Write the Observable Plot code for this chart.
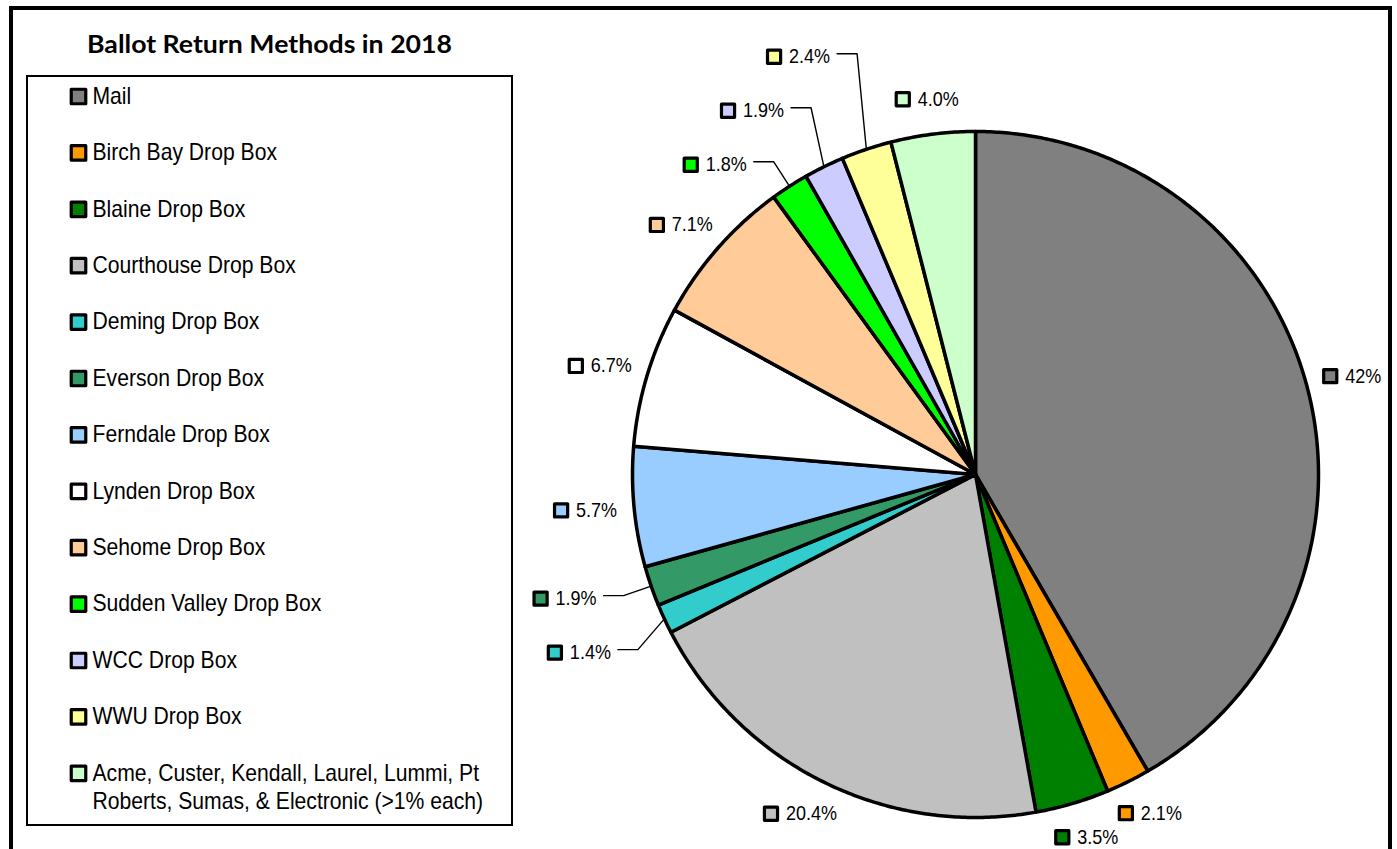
<!DOCTYPE html>
<html>
<head>
<meta charset="utf-8">
<script src="https://cdn.jsdelivr.net/npm/d3@7"></script>
<script src="https://cdn.jsdelivr.net/npm/@observablehq/plot@0.6"></script>
<style>
  body { margin: 0; background: #fff; }
  #wrap { position: relative; width: 1397px; height: 849px; overflow: hidden; background: #fff; }
  #wrap > * { position: absolute; }
  #frame { left: 9px; top: 6px; width: 1383px; height: 1000px; border: 4px solid #000; box-sizing: border-box; }
  #legendBox { left: 26px; top: 75px; width: 487px; height: 751px; border: 2px solid #000; box-sizing: border-box; }
</style>
</head>
<body>
<div id="wrap">
  <div id="pie" style="left:0;top:0"></div>
  <div id="legendBox"></div>
  <div id="legend" style="left:27px;top:75px"></div>
  <svg id="title" width="1397" height="120" style="left:0;top:0">
    <text x="269.5" y="53" text-anchor="middle" font-family="Lato, 'Open Sans', sans-serif" font-weight="bold" font-size="25" textLength="365" lengthAdjust="spacingAndGlyphs">Ballot Return Methods in 2018</text>
  </svg>
  <div id="frame"></div>
</div>
<script>
// ---- data ----
const categories = [
  "Mail", "Birch Bay Drop Box", "Blaine Drop Box", "Courthouse Drop Box",
  "Deming Drop Box", "Everson Drop Box", "Ferndale Drop Box", "Lynden Drop Box",
  "Sehome Drop Box", "Sudden Valley Drop Box", "WCC Drop Box", "WWU Drop Box",
  "Acme, Custer, Kendall, Laurel, Lummi, Pt\nRoberts, Sumas, & Electronic (>1% each)"
];
const values = [42, 2.1, 3.5, 20.4, 1.4, 1.9, 5.7, 6.7, 7.1, 1.8, 1.9, 2.4, 4.0];
const valueLabels = ["42%", "2.1%", "3.5%", "20.4%", "1.4%", "1.9%", "5.7%", "6.7%", "7.1%", "1.8%", "1.9%", "2.4%", "4.0%"];
const colors = ["#808080", "#FF9900", "#008000", "#C0C0C0", "#33CCCC", "#339966", "#99CCFF",
                "#FFFFFF", "#FFCC99", "#00FF00", "#CCCCFF", "#FFFF99", "#CCFFCC"];

// ---- layout ----
const W = 1397, H = 849, R = 343, CX = 975, CY = 474;
const FONT = "'Liberation Sans', Arial, sans-serif";
const LABEL_SIZE = 20, LEGEND_SIZE = 23, SQUEEZE_LABEL = 0.9, SQUEEZE_LEGEND = 0.92;

const ctx = document.createElement("canvas").getContext("2d");
ctx.font = `${LABEL_SIZE}px ${FONT}`;
const tw = s => ctx.measureText(s).width * SQUEEZE_LABEL;

const rows = categories.map((c, i) => ({i, name: c, value: values[i]}));
const arcs = d3.pie().sort(null).value(d => d.value)(rows);

// slice outlines in unit-radius coordinates (y up)
const slices = arcs.map((a, i) => {
  const n = Math.max(2, Math.ceil((a.endAngle - a.startAngle) / (Math.PI / 360)));
  const pts = [{x: 0, y: 0}];
  for (let k = 0; k <= n; ++k) {
    const t = a.startAngle + (a.endAngle - a.startAngle) * k / n;
    pts.push({x: Math.sin(t), y: Math.cos(t)});
  }
  pts.push({x: 0, y: 0});
  return {i, pts};
});

// labels (pixel offsets from centre, y down)
const labels = arcs.map((a, i) => {
  const mid = (a.startAngle + a.endAngle) / 2;
  const sx = Math.sin(mid), sy = -Math.cos(mid);
  return {i, sx, sy, text: valueLabels[i], w: tw(valueLabels[i]), leader: values[i] < 2.5 && sx < 0};
});
const GAP = 54;
const leaders = labels.filter(d => d.leader);
leaders.forEach(d => { d.ex = d.sx * R * 1.085; d.ey = d.sy * R * 1.085; });
const upper = leaders.filter(d => d.ey < 0).sort((a, b) => b.ey - a.ey);
for (let k = 1; k < upper.length; ++k) upper[k].ey = Math.min(upper[k].ey, upper[k - 1].ey - GAP);
const lower = leaders.filter(d => d.ey >= 0).sort((a, b) => a.ey - b.ey);
for (let k = 1; k < lower.length; ++k) lower[k].ey = Math.max(lower[k].ey, lower[k - 1].ey + GAP);

const labelPos = labels.map(d => {
  if (d.leader) {
    const textEnd = d.ex - 27;
    return {i: d.i, text: d.text, px: textEnd - d.w, sqx: textEnd - d.w - 15, py: d.ey + 3};
  }
  const gw = 16 + 7 + d.w, h = 36;
  const cx = d.sx * R * 1.05 + d.sx * gw / 2;
  const cy = d.sy * R * 1.05 + d.sy * h / 2;
  const left = cx - gw / 2;
  return {i: d.i, text: d.text, px: left + 23, sqx: left + 8, py: cy};
});
const leaderPts = leaders.flatMap(d => [
  {i: d.i, x: d.sx, y: -d.sy},
  {i: d.i, x: d.ex / R, y: -d.ey / R},
  {i: d.i, x: (d.ex - 20) / R, y: -d.ey / R}
]);

function squeeze(svg, f) {
  svg.querySelectorAll("text").forEach(t => {
    const tr = t.getAttribute("transform");
    if (tr && tr.includes("translate")) t.setAttribute("transform", tr + ` scale(${f},1)`);
  });
}

const pie = Plot.plot({
  width: W, height: H, margin: 0,
  style: {background: "transparent", fontFamily: FONT, overflow: "visible"},
  x: {domain: [-CX / R, (W - CX) / R], axis: null},
  y: {domain: [-(H - CY) / R, CY / R], axis: null},
  color: {type: "identity"},
  marks: [
    ...slices.map(s => Plot.line(s.pts, {x: "x", y: "y", fill: colors[s.i], stroke: "#000", strokeWidth: 3.5, strokeLinejoin: "round"})),
    Plot.line(leaderPts, {x: "x", y: "y", z: "i", stroke: "#000", strokeWidth: 1.4}),
    Plot.dot(labelPos, {x: d => d.sqx / R, y: d => -d.py / R, symbol: "square", r: 7.4, fill: d => colors[d.i], stroke: "#000", strokeWidth: 3.2, strokeLinejoin: "round"}),
    Plot.text(labelPos, {x: d => d.px / R, y: d => -d.py / R, text: "text", textAnchor: "start", fontSize: LABEL_SIZE, fill: "#000"})
  ]
});
squeeze(pie, SQUEEZE_LABEL);
document.getElementById("pie").append(pie);

// legend: each entry takes its lines plus one blank line
const legendLines = [];
let line = 0;
categories.forEach((c, i) => {
  c.split("\n").forEach((t, k) => { legendLines.push({i, line, text: t, first: k === 0}); line++; });
  line++;
});
const lastLine = line - 2;
const LINE = 28.2;
const legend = Plot.plot({
  width: 485, height: 750, margin: 0,
  style: {background: "transparent", fontFamily: FONT, overflow: "visible"},
  y: {domain: [0, lastLine], range: [21, 21 + lastLine * LINE], axis: null},
  color: {type: "identity"},
  marks: [
    Plot.dot(legendLines.filter(d => d.first), {y: "line", frameAnchor: "left", dx: 51, symbol: "square", r: 8.2, fill: d => colors[d.i], stroke: "#000", strokeWidth: 3.2, strokeLinejoin: "round"}),
    Plot.text(legendLines, {y: "line", text: "text", frameAnchor: "left", dx: 65, textAnchor: "start", fontSize: LEGEND_SIZE, fill: "#000"})
  ]
});
squeeze(legend, SQUEEZE_LEGEND);
document.getElementById("legend").append(legend);
</script>
</body>
</html>
